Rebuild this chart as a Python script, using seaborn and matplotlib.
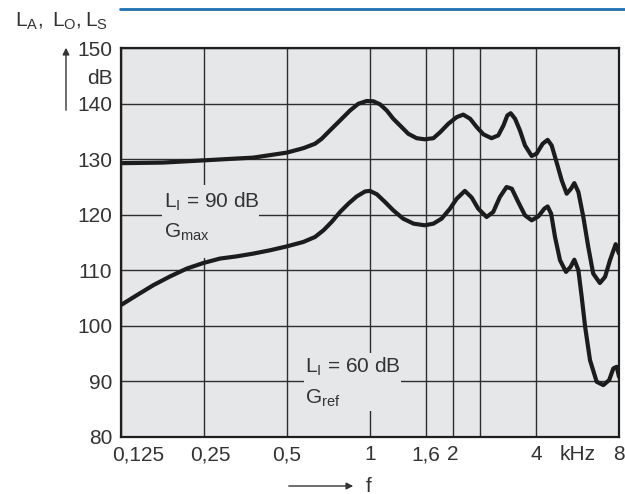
import pandas as pd
import matplotlib
matplotlib.use('Agg')
from matplotlib import pyplot as plt
from matplotlib.patches import Rectangle
from matplotlib.lines import Line2D
import seaborn as sns

# curve values (f in kHz, level in dB)
f_gmax = [0.125, 0.177, 0.249, 0.378, 0.5, 0.574, 0.633, 0.669, 0.717, 0.78, 0.848, 0.908,
          0.974, 1.03, 1.089, 1.151, 1.216, 1.304, 1.378, 1.478, 1.58, 1.70, 1.80, 1.925,
          2.065, 2.18, 2.31, 2.44, 2.58, 2.76, 2.92, 3.05, 3.15, 3.24, 3.36, 3.50, 3.65,
          3.86, 4.02, 4.23, 4.41, 4.56, 4.75, 4.96, 5.17, 5.36, 5.51, 5.70, 5.94, 6.19,
          6.45, 6.82, 7.12, 7.42, 7.78, 8.0]
L_gmax = [129.3, 129.4, 129.8, 130.3, 131.2, 132.0, 132.8, 133.7, 135.2, 137.0, 138.8, 140.0,
          140.5, 140.45, 139.9, 138.8, 137.3, 135.8, 134.6, 133.8, 133.6, 133.8, 134.9, 136.4,
          137.6, 138.05, 137.3, 135.8, 134.5, 133.8, 134.3, 136.1, 137.9, 138.3, 137.3, 135.2, 132.5,
          130.6, 131.0, 132.8, 133.5, 132.5, 129.5, 126.2, 123.8, 124.7, 125.7, 124.1, 119.6, 114.2,
          109.4, 107.7, 108.8, 111.8, 114.7, 113.0]

f_gref = [0.125, 0.143, 0.164, 0.189, 0.217, 0.249, 0.286, 0.329, 0.378, 0.435, 0.5, 0.574,
          0.633, 0.679, 0.727, 0.78, 0.836, 0.896, 0.961, 1.0, 1.06, 1.135, 1.216, 1.32,
          1.44, 1.58, 1.70, 1.82, 1.952, 2.065, 2.21, 2.34, 2.47, 2.65, 2.80, 2.96, 3.13,
          3.27, 3.45, 3.65, 3.86, 4.08, 4.29, 4.41, 4.54, 4.69, 4.89, 5.14, 5.34, 5.51,
          5.70, 5.86, 6.03, 6.28, 6.64, 7.02, 7.37, 7.63, 7.85, 8.0]
L_gref = [103.7, 105.5, 107.3, 108.9, 110.3, 111.3, 112.1, 112.5, 113.0, 113.6, 114.3, 115.1,
          116.0, 117.2, 118.7, 120.5, 122.0, 123.3, 124.2, 124.3, 123.7, 122.3, 120.8, 119.3,
          118.4, 118.1, 118.4, 119.3, 121.1, 122.9, 124.3, 123.1, 121.1, 119.6, 120.5, 123.2, 125.0,
          124.7, 122.3, 119.9, 119.0, 119.7, 121.1, 121.5, 120.2, 116.0, 111.8, 109.7, 110.6, 111.9,
          110.0, 105.2, 99.8, 93.8, 89.9, 89.3, 90.2, 92.3, 92.6, 90.8]

grid_f = [0.125, 0.25, 0.5, 1, 1.6, 2, 2.5, 4, 8]
xtick_vals = [0.125, 0.25, 0.5, 1, 1.6, 2, 4, 5.66, 8]
xtick_text = ['0,125', '0,25', '0,5', '1', '1,6', '2', '4', 'kHz', '8']
ytick_vals = [80, 90, 100, 110, 120, 130, 140, 150]

df = pd.concat([
    pd.DataFrame({'f': f_gmax, 'L': L_gmax, 'curve': 'Gmax'}),
    pd.DataFrame({'f': f_gref, 'L': L_gref, 'curve': 'Gref'}),
])

sns.set_style('whitegrid', {
    'axes.facecolor': '#e6e7e9',
    'axes.edgecolor': '#1e1e1e',
    'grid.color': '#2e2e2e',
})
plt.rcParams['font.family'] = ['Liberation Sans', 'DejaVu Sans']
plt.rcParams['mathtext.fontset'] = 'custom'
plt.rcParams['mathtext.rm'] = 'Liberation Sans'
plt.rcParams['mathtext.it'] = 'Liberation Sans'
txt = '#333333'
fs = 15

fig = plt.figure(figsize=(6.25, 4.94), dpi=100)
ax = fig.add_axes([0.1931, 0.116, 0.7973, 0.7862])

sns.lineplot(data=df, x='f', y='L', hue='curve', palette=['#1c1c1c', '#1c1c1c'],
             estimator=None, legend=False, linewidth=3.0, ax=ax, zorder=5)
for ln in ax.lines:
    ln.set_solid_joinstyle('round')
    ln.set_solid_capstyle('round')

ax.set_xscale('log', base=2)
ax.set_xlim(0.125, 8)
ax.set_ylim(80, 150)
ax.set_xticks(grid_f)
ax.set_xticklabels([])
ax.xaxis.set_minor_locator(matplotlib.ticker.NullLocator())
ax.set_yticks(ytick_vals)
ax.set_yticklabels([str(v) for v in ytick_vals], fontsize=fs, color=txt)
ax.tick_params(length=0, pad=6)
ax.grid(True, color='#2e2e2e', linewidth=1.0)
ax.set_xlabel('')
ax.set_ylabel('')
for sp in ax.spines.values():
    sp.set_linewidth(1.6)
    sp.set_color('#1e1e1e')

# x tick labels drawn by hand (the first two are nudged off the corner)
xtr = ax.get_xaxis_transform()
for v, s in zip(xtick_vals, xtick_text):
    if v == 0.125:
        dx, ha = -6, 'left'
    elif v == 0.25:
        dx, ha = 5, 'center'
    else:
        dx, ha = 0, 'center'
    ax.annotate(s, (v, 0), xycoords=xtr, xytext=(dx, -6), textcoords='offset points',
                ha=ha, va='top', fontsize=fs, color=txt)

# unit label between 150 and 140
ax.annotate('dB', (0, 145), xycoords=('axes fraction', 'data'), xytext=(-6, -2),
            textcoords='offset points', ha='right', va='center', fontsize=fs, color=txt)

# label boxes that break the grid lines
bg = '#e6e7e9'
ax.add_patch(Rectangle((0.177, 112.2), 0.396 - 0.177, 125.3 - 112.2, facecolor=bg,
                       edgecolor='none', zorder=2.5))
ax.add_patch(Rectangle((0.579, 84.6), 1.297 - 0.579, 95.0 - 84.6, facecolor=bg,
                       edgecolor='none', zorder=2.5))
ax.text(0.179, 121.3, r'$\mathrm{L_I}$ = 90 dB', fontsize=fs, color=txt, va='baseline', zorder=3)
ax.text(0.179, 115.8, r'$\mathrm{G_{max}}$', fontsize=fs, color=txt, va='baseline', zorder=3)
ax.text(0.583, 91.5, r'$\mathrm{L_I}$ = 60 dB', fontsize=fs, color=txt, va='baseline', zorder=3)
ax.text(0.583, 85.9, r'$\mathrm{G_{ref}}$', fontsize=fs, color=txt, va='baseline', zorder=3)

# axis titles with arrows
fig.text(15 / 625, 1 - 27 / 494, r'$\mathrm{L_A,\ L_O,L_S}$', fontsize=fs, color=txt,
         ha='left', va='baseline')
ax.annotate('', xy=(66, 494 - 45), xytext=(66, 494 - 113), xycoords='figure pixels',
            arrowprops=dict(arrowstyle='-|>', color='#333333', lw=1.0, mutation_scale=10))
ax.annotate('', xy=(356, 494 - 486), xytext=(286, 494 - 486), xycoords='figure pixels',
            arrowprops=dict(arrowstyle='-|>', color='#333333', lw=1.0, mutation_scale=10))
fig.text(366 / 625, 1 - 486 / 494, 'f', fontsize=fs, color=txt, ha='left', va='center')

# blue rule at the top
fig.add_artist(Line2D([120 / 625, 1.0], [1 - 9 / 494, 1 - 9 / 494],
                      color='#1f6fb0', linewidth=2.0))

fig.savefig('out.png', dpi=100)
